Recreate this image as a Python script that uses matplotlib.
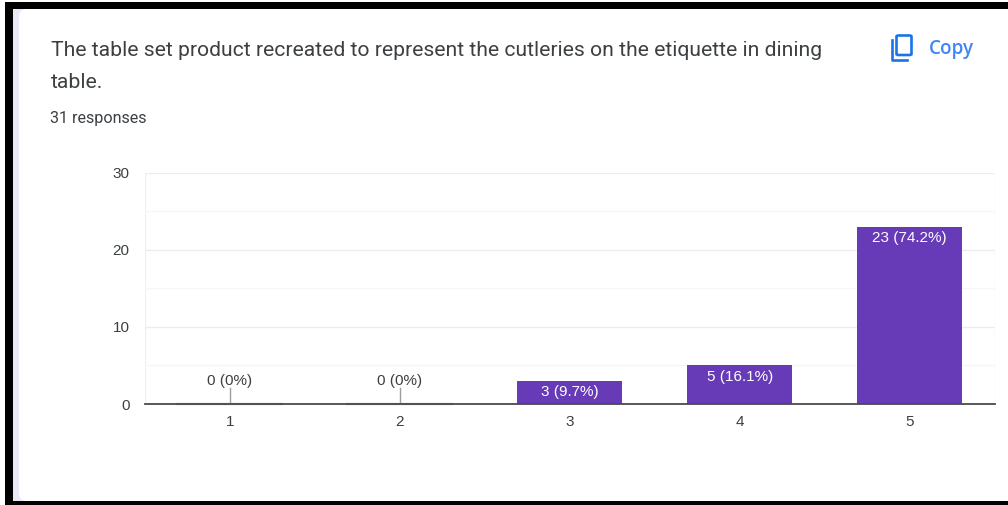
import matplotlib

matplotlib.use("Agg")
import matplotlib.pyplot as plt
from matplotlib.lines import Line2D
from matplotlib.patches import FancyBboxPatch, Rectangle

categories = [1, 2, 3, 4, 5]
counts = [0, 0, 3, 5, 23]
total_responses = 31
y_major = [0, 10, 20, 30]
y_minor = [5, 15, 25]

question = "The table set product recreated to represent the cutleries on the etiquette in dining\ntable."
responses_text = f"{total_responses} responses"

WIDTH, HEIGHT = 1008, 505
PURPLE = "#673AB7"
BLUE = "#1A73E8"
TEXT = "#3C4043"
FONT = "Roboto"
CHART_FONT = "Liberation Sans"


def fx(px):
    return px / WIDTH


def fy(py):
    return 1 - py / HEIGHT


def add_rect(fig, x0, y0, x1, y1, color):
    fig.patches.append(
        Rectangle(
            (fx(x0), fy(y1)),
            fx(x1 - x0),
            (y1 - y0) / HEIGHT,
            transform=fig.transFigure,
            facecolor=color,
            edgecolor="none",
        )
    )


def pct_label(v):
    return f"{v} ({round(100 * v / total_responses, 1):g}%)"


fig = plt.figure(figsize=(WIDTH / 100, HEIGHT / 100), dpi=100)
fig.patch.set_facecolor("white")

# window frame around the card
add_rect(fig, 5, 2, WIDTH, 9, "black")
add_rect(fig, 5, 2, 13, 505, "black")
add_rect(fig, 5, 501, WIDTH, 505, "black")
add_rect(fig, 13, 9, 40, 501, "#EBE8F5")
fig.patches.append(
    FancyBboxPatch(
        (fx(19), fy(501)),
        fx(995),
        (501 - 9) / HEIGHT,
        boxstyle="round,pad=0,rounding_size=0.008",
        mutation_aspect=2,
        transform=fig.transFigure,
        facecolor="white",
        edgecolor="none",
    )
)

fig.text(
    fx(51), fy(51), question.split("\n")[0], fontsize=15.25, family=FONT, color=TEXT,
    va="center", ha="left",
)
fig.text(
    fx(51), fy(82), question.split("\n")[1], fontsize=15.25, family=FONT, color=TEXT,
    va="center", ha="left",
)
fig.text(fx(50), fy(118), responses_text, fontsize=11.6, family=FONT, color=TEXT,
         va="center", ha="left")

# copy button
fig.patches.append(
    FancyBboxPatch(
        (fx(896.5), fy(55)),
        fx(15),
        19.5 / HEIGHT,
        boxstyle="round,pad=0,rounding_size=0.002",
        transform=fig.transFigure,
        facecolor="none",
        edgecolor=BLUE,
        linewidth=1.9,
    )
)
fig.add_artist(
    Line2D(
        [fx(891.5), fx(891.5), fx(907)],
        [fy(40), fy(60), fy(60)],
        color=BLUE,
        linewidth=1.9,
        solid_joinstyle="round",
    )
)
fig.text(fx(929), fy(49), "Copy", fontsize=13.6, family="Open Sans", weight=600,
         color="#4285F4", va="center", ha="left")

ax = fig.add_axes([fx(144.7), fy(404), fx(850), (404 - 172.5) / HEIGHT])
ax.set_zorder(5)
ax.set_facecolor("white")
ax.set_xlim(0.5, 5.5)
ax.set_ylim(0, 30)

ax.bar(categories, counts, width=0.615, color=PURPLE, zorder=3)

for cat, count in zip(categories, counts):
    if count == 0:
        # empty categories: thin baseline segment with a leader line to the label
        ax.plot([cat - 0.3075, cat + 0.3075], [0, 0], color="#9E9E9E", lw=1.6, zorder=4,
                clip_on=False)
        ax.plot([cat, cat], [0, 2.1], color="#9E9E9E", lw=1, zorder=4)
        ax.text(cat, 2.08, pct_label(count), ha="center", va="bottom", fontsize=11,
                family=CHART_FONT, color=TEXT)
    else:
        ax.text(cat, count - 0.6, pct_label(count), ha="center", va="top", fontsize=11,
                family=CHART_FONT, color="white", zorder=5)

for spine in ["top", "left", "right"]:
    ax.spines[spine].set_visible(False)
ax.spines["bottom"].set_color("#4A4A4A")
ax.spines["bottom"].set_linewidth(1.3)
ax.spines["bottom"].set_zorder(6)

ax.set_xticks(categories)
ax.set_yticks(y_major)
ax.set_yticks(y_minor, minor=True)
ax.tick_params(axis="both", which="both", length=0)
ax.tick_params(axis="x", pad=8, labelsize=11, labelcolor=TEXT)
ax.tick_params(axis="y", pad=11, labelsize=11, labelcolor=TEXT)
for label in ax.get_xticklabels() + ax.get_yticklabels():
    label.set_family(CHART_FONT)

ax.grid(axis="y", which="major", color="#EDEDED", linewidth=1, zorder=0)
ax.grid(axis="y", which="minor", color="#F6F6F6", linewidth=1, zorder=0)
ax.axvline(0.5, color="#F0F0F0", linewidth=1, zorder=0)
ax.axvline(5.5, color="#F0F0F0", linewidth=1, zorder=0)
ax.set_axisbelow(True)

fig.savefig("out.png", dpi=100, facecolor=fig.get_facecolor())
plt.close(fig)
